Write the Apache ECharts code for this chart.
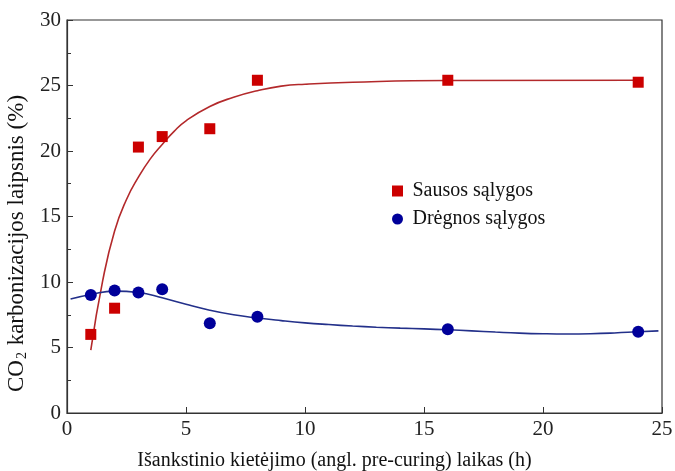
<!DOCTYPE html>
<html>
<head>
<meta charset="utf-8">
<title>CO2 karbonizacijos laipsnis</title>
<script src="https://cdn.jsdelivr.net/npm/echarts@6/dist/echarts.min.js"></script>
<style>
  html, body { margin: 0; padding: 0; background: #fff; }
  #chart { width: 675px; height: 471px; }
</style>
</head>
<body>
<div id="chart"></div>
<script>
// measured points (pre-curing time, h)
var pointTime = [1, 2, 3, 4, 6, 8, 16, 24];
var dryValue = [6.0, 8.0, 20.3, 21.1, 21.7, 25.4, 25.4, 25.25];
var wetValue = [9.0, 9.35, 9.2, 9.45, 6.85, 7.35, 6.4, 6.2];

// fitted curves
var dryFitX = [1.0, 1.5, 2.0, 2.5, 3.0, 3.5, 4.0, 4.5, 5.0, 6, 7, 8, 9, 10, 12, 16, 24];
var dryFitY = [4.8, 10.1, 13.9, 16.3, 18.0, 19.4, 20.5, 21.5, 22.3, 23.4, 24.1, 24.6, 24.95, 25.1, 25.25, 25.38, 25.4];
var wetFitX = [0.15, 1, 2, 3, 4, 5, 6, 7, 8, 9, 10, 11, 12, 13, 14, 15, 16, 17, 18, 19, 20, 21, 22, 23, 24, 24.85];
var wetFitY = [8.7, 9.05, 9.3, 9.2, 8.8, 8.3, 7.85, 7.5, 7.25, 7.05, 6.88, 6.75, 6.64, 6.55, 6.48, 6.42, 6.35, 6.27, 6.18, 6.1, 6.05, 6.03, 6.05, 6.11, 6.2, 6.27];

var xTicks = [0, 5, 10, 15, 20, 25];
var yTicks = [0, 5, 10, 15, 20, 25, 30];

var seriesNames = ['Sausos sąlygos', 'Drėgnos sąlygos'];

function pairs(xs, ys) {
  return xs.map(function (x, i) { return [x, ys[i]]; });
}

var font = 'Liberation Serif, Times New Roman, serif';
var axisColor = '#333';

var chart = echarts.init(document.getElementById('chart'), null, { renderer: 'canvas' });

var option = {
  animation: false,
  backgroundColor: '#fff',
  grid: {
    left: 67, right: 13, top: 20, bottom: 58,
    outerBoundsMode: 'none',
    show: true, borderColor: axisColor, borderWidth: 1.2,
    backgroundColor: 'transparent'
  },
  legend: {
    orient: 'vertical',
    left: 387, top: 175,
    itemWidth: 20, itemHeight: 11, itemGap: 6,
    symbolKeepAspect: true,
    data: [
      { name: seriesNames[0], icon: 'path://M0,0H10V10H0Z' },
      { name: seriesNames[1], icon: 'circle' }
    ],
    textStyle: { fontFamily: font, fontSize: 20, color: '#111', lineHeight: 22 }
  },
  xAxis: {
    type: 'value',
    min: xTicks[0], max: xTicks[xTicks.length - 1], interval: 5,
    name: 'Išankstinio kietėjimo (angl. pre-curing) laikas (h)',
    nameLocation: 'middle', nameGap: 38,
    nameTextStyle: { fontFamily: font, fontSize: 20, color: '#111', padding: [0, 60, 0, 0] },
    axisLine: { lineStyle: { color: axisColor, width: 1.2 } },
    axisTick: { inside: true, length: 6, lineStyle: { color: axisColor } },
    axisLabel: { fontFamily: font, fontSize: 21, color: '#222', margin: 6 },
    splitLine: { show: false }
  },
  yAxis: {
    type: 'value',
    min: yTicks[0], max: yTicks[yTicks.length - 1], interval: 5,
    name: 'CO{sub|2} karbonizacijos laipsnis (%)',
    nameLocation: 'middle', nameGap: 33,
    nameTextStyle: {
      fontFamily: font, fontSize: 23, color: '#111', padding: [0, 54, 0, 0],
      rich: { sub: { fontFamily: font, fontSize: 14, color: '#111', verticalAlign: 'bottom', padding: [10, 1, 0, 1] } }
    },
    axisLine: { lineStyle: { color: axisColor, width: 1.2 } },
    axisTick: { inside: true, length: 6, lineStyle: { color: axisColor } },
    minorTick: { show: true, splitNumber: 2, length: 4, lineStyle: { color: axisColor } },
    axisLabel: { fontFamily: font, fontSize: 21, color: '#222', margin: 6 },
    splitLine: { show: false }
  },
  series: [
    {
      name: 'dryFit', type: 'line', smooth: 0.5, symbol: 'none', silent: true,
      lineStyle: { color: '#b3292b', width: 1.6 },
      data: pairs(dryFitX, dryFitY), z: 2
    },
    {
      name: 'wetFit', type: 'line', smooth: 0.5, symbol: 'none', silent: true,
      lineStyle: { color: '#23308a', width: 1.6 },
      data: pairs(wetFitX, wetFitY), z: 2
    },
    {
      name: seriesNames[0], type: 'scatter', symbol: 'rect', symbolSize: 11,
      itemStyle: { color: '#cc0000', opacity: 1 },
      data: pairs(pointTime, dryValue), z: 3
    },
    {
      name: seriesNames[1], type: 'scatter', symbol: 'circle', symbolSize: 12,
      itemStyle: { color: '#00009a', opacity: 1 },
      data: pairs(pointTime, wetValue), z: 3
    }
  ]
};

chart.setOption(option);
</script>
</body>
</html>
